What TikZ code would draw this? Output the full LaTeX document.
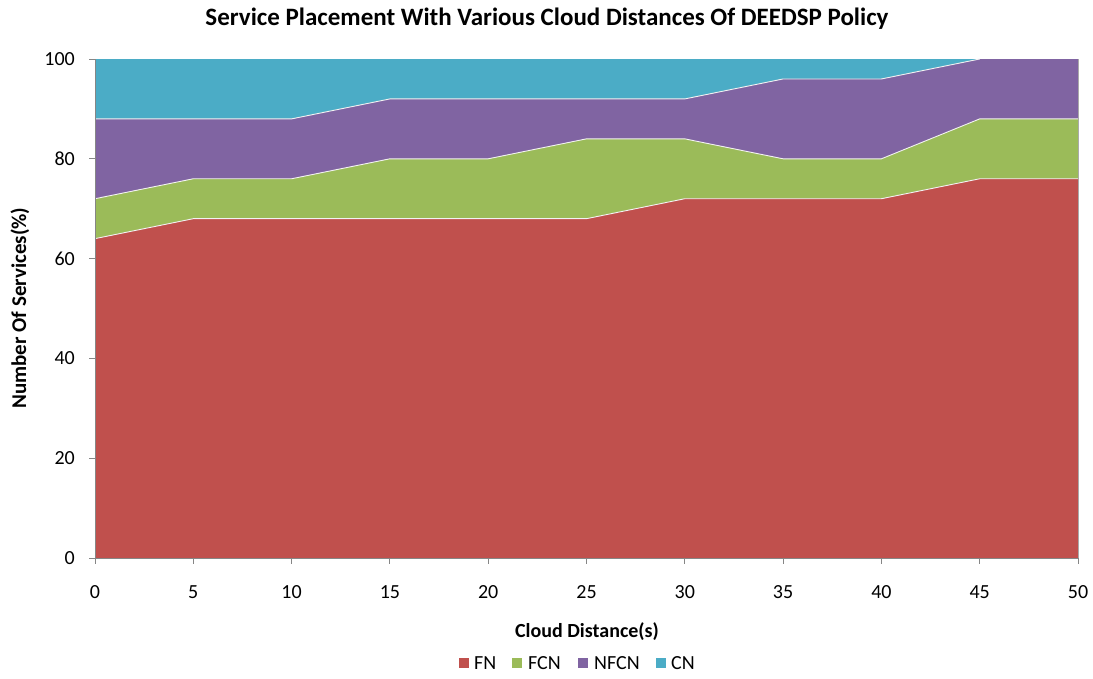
\documentclass[tikz,border=0pt]{standalone}
\usepackage{fontspec}
\setmainfont{Carlito}
\definecolor{cfn}{HTML}{C0504D}
\definecolor{cfcn}{HTML}{9BBB59}
\definecolor{cnfcn}{HTML}{8064A2}
\definecolor{ccn}{HTML}{4BACC6}
\definecolor{axisgray}{HTML}{868686}
\tikzset{
  boundary/.style={draw=white!90!gray, line width=0.9pt},
  axisline/.style={draw=axisgray, line width=1pt},
  ticklab/.style={font=\fontsize{20}{24}\selectfont, inner sep=0pt},
  legsq/.style={minimum size=10pt, inner sep=0pt},
  leglab/.style={font=\fontsize{20}{24}\selectfont, anchor=west, inner sep=0pt}
}
\begin{document}
\begin{tikzpicture}[x=1pt,y=-1pt]
\useasboundingbox[fill=white] (0,0) rectangle (1093,678);
\node[font=\bfseries\fontsize{25}{30}\selectfont] (title) at (547,19) {Service Placement With Various Cloud Distances Of DEEDSP Policy};
\begin{scope}[shift={(95,558)}, x=19.66pt, y=4.99pt]
  % CN (top band)
  \fill[ccn] (0,0) rectangle (50,100);
  % NFCN
  \fill[cnfcn] (0,0) -- (0,88) -- (5,88) -- (10,88) -- (15,92) -- (20,92) -- (25,92) -- (30,92) -- (35,96) -- (40,96) -- (45,100) -- (50,100) -- (50,0) -- cycle;
  % FCN
  \fill[cfcn] (0,0) -- (0,72) -- (5,76) -- (10,76) -- (15,80) -- (20,80) -- (25,84) -- (30,84) -- (35,80) -- (40,80) -- (45,88) -- (50,88) -- (50,0) -- cycle;
  % FN
  \fill[cfn] (0,0) -- (0,64) -- (5,68) -- (10,68) -- (15,68) -- (20,68) -- (25,68) -- (30,72) -- (35,72) -- (40,72) -- (45,76) -- (50,76) -- (50,0) -- cycle;
  % boundaries
  \draw[boundary] (0,88) -- (5,88) -- (10,88) -- (15,92) -- (20,92) -- (25,92) -- (30,92) -- (35,96) -- (40,96) -- (45,100);
  \draw[boundary] (0,72) -- (5,76) -- (10,76) -- (15,80) -- (20,80) -- (25,84) -- (30,84) -- (35,80) -- (40,80) -- (45,88) -- (50,88);
  \draw[boundary] (0,64) -- (5,68) -- (10,68) -- (15,68) -- (20,68) -- (25,68) -- (30,72) -- (35,72) -- (40,72) -- (45,76) -- (50,76);
  % right edge
  \draw[draw=axisgray!70, line width=0.6pt] (50,0) -- (50,100);
  % axes
  \draw[axisline] (0,100) -- (0,0) -- (50,0);
  \foreach \v in {0,20,...,100} {
    \draw[axisline] (0,\v) -- ++(-6pt,0);
    \node[ticklab, anchor=east] (yl\v) at ([xshift=-20pt]0,\v) {\v};
  }
  \foreach \d in {0,5,...,50} {
    \draw[axisline] (\d,0) -- ++(0,-6pt);
    \node[ticklab] (xl\d) at ([yshift=-34pt]\d,0) {\d};
  }
\end{scope}
\node[font=\bfseries\fontsize{21}{24}\selectfont, rotate=90] (ylabel) at (20,308) {Number Of Services(\%)};
\node[font=\bfseries\fontsize{20}{24}\selectfont] (xlabel) at (587,632) {Cloud Distance(s)};
% legend
\node[legsq, fill=cfn] (sqfn) at (464,663) {};
\node[leglab] (lfn) at (474,663) {FN};
\node[legsq, fill=cfcn] (sqfcn) at (517,663) {};
\node[leglab] (lfcn) at (528,663) {FCN};
\node[legsq, fill=cnfcn] (sqnfcn) at (583,663) {};
\node[leglab] (lnfcn) at (594,663) {NFCN};
\node[legsq, fill=ccn] (sqcn) at (661,663) {};
\node[leglab] (lcn) at (671,663) {CN};
\end{tikzpicture}
\end{document}
